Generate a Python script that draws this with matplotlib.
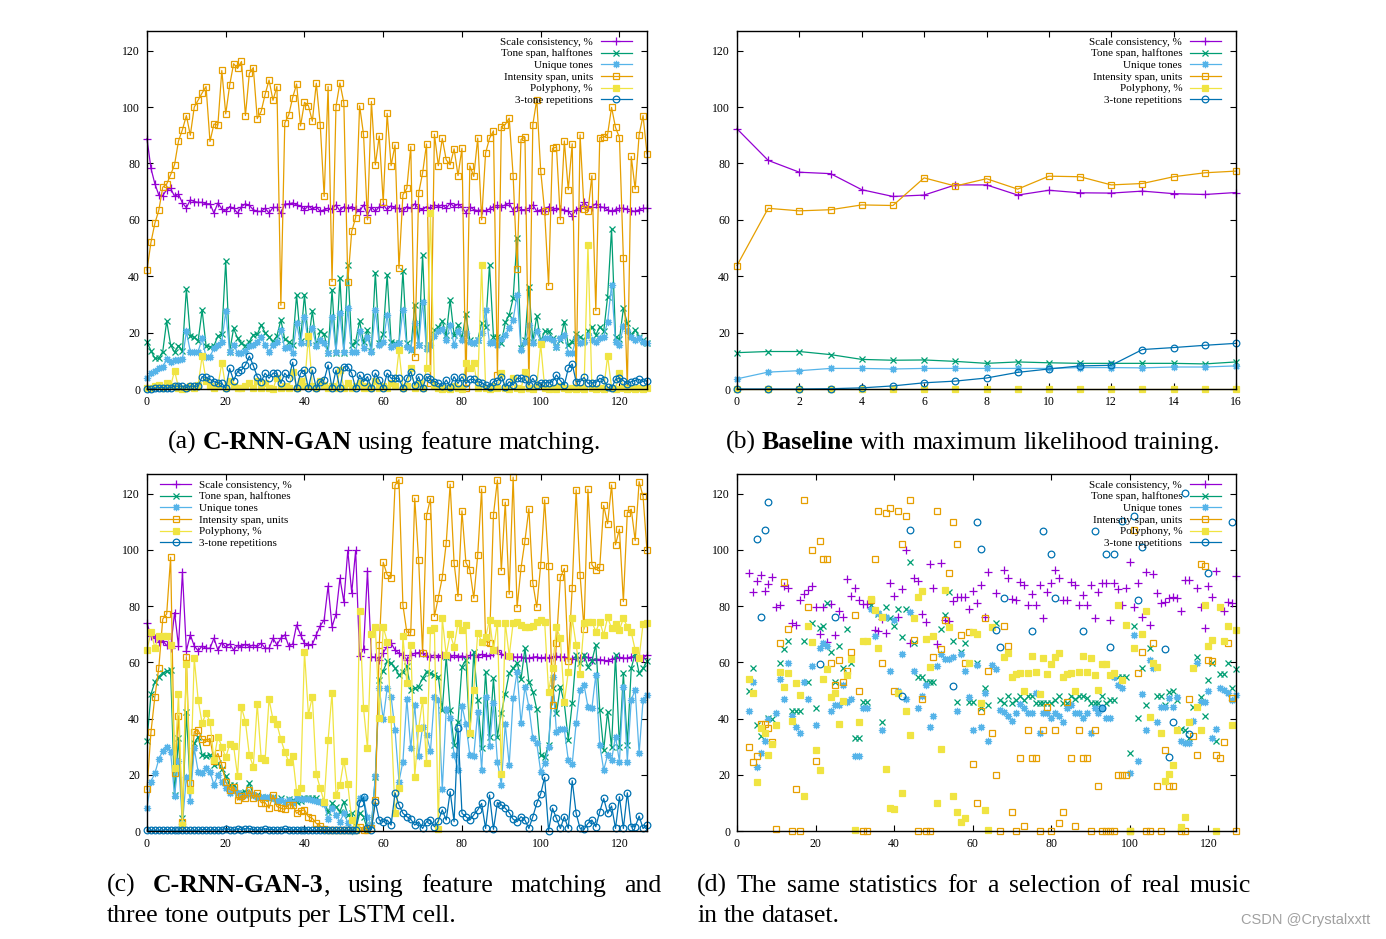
import numpy as np
import matplotlib
matplotlib.use("Agg")
import matplotlib.pyplot as plt
from matplotlib.lines import Line2D
from matplotlib.transforms import IdentityTransform

plt.rcParams['font.family'] = ['Liberation Serif', 'DejaVu Serif']

# series names / colours (gnuplot defaults)
labels = ["Scale consistency, %", "Tone span, halftones", "Unique tones",
          "Intensity span, units", "Polyphony, %", "3-tone repetitions"]
colors = ['#9400d3', '#009e73', '#56b4e9', '#e69f00', '#f0e442', '#0072b2']

# ---- (a) C-RNN-GAN, feature matching (epochs 0..127)
a_scale = [88.8, 78.3, 72.8, 68.8, 68.6, 70.7, 71.2, 68.3, 69.1, 66.0,
           64.3, 67.1, 66.5, 66.2, 66.2, 65.7, 65.7, 62.4, 66.0, 63.9,
           63.0, 64.7, 64.1, 62.4, 64.7, 65.7, 65.1, 63.6, 63.0, 63.0,
           64.1, 62.4, 64.4, 64.4, 62.4, 65.6, 65.7, 66.0, 65.3, 65.0,
           63.6, 65.0, 63.8, 64.7, 63.0, 63.6, 64.1, 63.9, 65.3, 63.2,
           64.7, 64.1, 64.7, 63.9, 63.0, 65.3, 61.8, 64.5, 63.0, 64.7,
           65.3, 63.6, 65.0, 64.1,
           64.1, 63.0, 64.7, 64.1, 65.7, 64.1, 63.6, 64.7, 64.1, 65.3,
           64.7, 65.3, 64.1, 65.9, 64.7, 65.6, 64.5, 62.6, 64.7, 63.6,
           63.3, 63.6, 63.0, 63.9, 64.7, 65.1, 64.7, 65.3, 65.9, 63.3,
           64.7, 63.6, 63.6, 64.1, 65.3, 63.0, 63.6, 63.3, 64.7, 63.6,
           64.1, 63.9, 63.6, 63.0, 61.5, 63.6, 64.1, 66.2, 64.7, 64.7,
           65.7, 64.7, 64.4, 63.6, 63.0, 63.6, 64.1, 64.1, 63.9, 63.3,
           63.0, 63.6, 64.1, 64.1]
a_span = [16.6, 13.6, 10.9, 10.9, 13.3, 24.1, 15.6, 13.0, 15.4, 13.6,
          35.5, 18.8, 18.3, 17.2, 28.0, 15.3, 15.0, 15.3, 18.8, 19.5,
          45.4, 13.3, 21.5, 18.0, 16.2, 15.4, 16.8, 19.2, 19.4, 22.7,
          20.0, 18.6, 16.8, 18.8, 24.5, 17.6, 16.8, 15.6, 33.4, 17.2,
          33.4, 16.8, 27.7, 15.6, 20.4, 19.5, 12.9, 35.1, 12.9, 39.3,
          12.9, 44.0, 15.6, 16.8, 24.1, 16.6, 20.9, 13.6, 41.3, 16.2,
          19.5, 40.6, 16.8, 16.2,
          16.2, 42.0, 16.2, 13.8, 29.8, 15.6, 47.6, 14.4, 15.6, 21.0,
          21.9, 24.1, 19.2, 31.6, 19.2, 22.7, 18.0, 26.5, 17.4, 16.2,
          17.4, 23.3, 22.1, 44.0, 18.6, 18.6, 16.2, 23.6, 26.3, 32.2,
          53.5, 14.4, 17.4, 36.3, 16.8, 25.9, 16.8, 20.4, 20.4, 18.0,
          15.0, 17.4, 23.9, 15.6, 16.8, 19.5, 18.6, 17.4, 20.4, 22.1,
          19.2, 22.1, 20.4, 32.8, 56.8, 18.6, 17.6, 28.6, 23.3, 19.2,
          21.0, 18.6, 17.4, 16.2]
a_unique = [3.8, 5.6, 6.5, 7.3, 7.9, 10.5, 9.7, 10.3, 10.3, 10.5,
            20.4, 13.3, 13.3, 13.3, 18.0, 11.2, 11.5, 14.4, 15.6, 16.8,
            27.5, 13.3, 15.6, 12.9, 12.9, 13.6, 15.3, 15.6, 16.8, 18.6,
            15.6, 13.3, 15.6, 16.8, 20.9, 14.4, 15.0, 12.7, 23.3, 16.2,
            25.7, 16.2, 21.5, 15.3, 17.4, 16.2, 12.9, 25.7, 13.3, 26.9,
            13.3, 28.6, 13.3, 13.3, 20.4, 14.4, 18.6, 13.3, 28.0, 15.6,
            16.8, 26.3, 15.0, 15.6,
            16.2, 28.0, 15.0, 14.1, 23.3, 15.6, 31.0, 14.1, 15.6, 18.8,
            20.4, 21.2, 17.4, 22.7, 15.6, 20.4, 17.4, 19.8, 16.8, 16.4,
            17.4, 19.8, 28.0, 16.2, 16.8, 15.6, 17.6, 19.2, 21.5, 24.5,
            33.4, 13.8, 16.8, 22.7, 16.4, 20.4, 16.8, 18.0, 18.0, 17.4,
            15.0, 18.0, 19.2, 12.9, 12.7, 18.0, 16.4, 16.8, 19.2, 17.4,
            16.8, 18.0, 18.6, 23.9, 36.9, 16.8, 15.6, 22.4, 20.4, 18.6,
            17.4, 18.0, 16.8, 16.2]
a_intensity = [42.2, 52.0, 58.8, 63.4, 71.6, 72.7, 76.0, 79.6, 88.0, 92.0,
               97.0, 90.0, 100.0, 102.5, 105.0, 107.3, 87.8, 94.0, 93.6, 113.0,
               97.6, 107.8, 115.4, 113.7, 116.2, 97.0, 112.0, 114.0, 95.9, 98.5,
               104.5, 109.6, 102.4, 107.3, 29.7, 94.4, 97.2, 103.4, 108.2, 93.3,
               101.7, 100.5, 95.0, 108.5, 93.8, 68.3, 107.3, 38.1, 100.2, 108.6,
               101.5, 38.1, 55.9, 60.8, 100.5, 90.3, 60.0, 102.0, 79.5, 89.8,
               66.2, 97.8, 79.2, 86.6,
               42.8, 68.9, 71.2, 86.0, 11.5, 69.5, 76.6, 86.9, 2.0, 90.4,
               79.2, 88.9, 81.3, 79.5, 85.2, 75.7, 85.4, 0.5, 79.2, 75.4,
               89.0, 60.0, 83.7, 88.9, 91.6, 4.9, 93.1, 93.8, 96.1, 75.6,
               42.6, 88.6, 89.3, 0.5, 93.8, 102.6, 77.4, 63.0, 36.7, 85.4,
               85.8, 60.0, 88.0, 70.7, 87.0, 0.5, 90.2, 64.0, 63.0, 75.7,
               27.8, 89.2, 89.3, 90.4, 99.9, 92.8, 89.2, 46.3, 0.5, 82.5,
               70.9, 90.2, 97.0, 83.4]
a_poly = [0.5, 0.5, 1.0, 1.5, 0.5, 2.0, 1.0, 6.5, 0.5, 0.0,
          0.5, 1.0, 0.5, 1.5, 11.7, 3.0, 1.0, 0.5, 1.0, 9.3,
          0.5, 3.0, 1.0, 0.5, 0.5, 1.0, 2.0, 0.5, 3.0, 0.5,
          2.0, 0.5, 0.0, 4.0, 0.5, 1.0, 0.5, 6.0, 0.5, 3.0,
          1.0, 18.8, 1.0, 0.5, 3.0, 1.5, 0.5, 1.0, 0.5, 6.7,
          0.5, 2.0, 0.5, 1.0, 2.0, 0.5, 1.0, 0.5, 3.0, 0.5,
          1.0, 0.5, 2.0, 1.0, 13.8, 0.5, 1.0, 7.3, 0.5, 2.0,
          0.5, 7.3, 62.4, 1.0, 0.5, 0.0, 0.5, 0.0, 1.0, 0.5,
          0.0, 9.3, 7.3, 9.1, 0.5, 44.0, 0.5, 0.0, 1.0, 0.5,
          5.8, 0.5, 0.0, 3.8, 0.5, 0.0, 6.2, 0.5, 0.0, 1.0,
          15.9, 0.5, 0.0, 0.5, 0.0, 1.0, 0.5, 0.0, 0.5, 0.0,
          0.5, 0.0, 51.1, 0.5, 0.0, 0.5, 0.0, 11.7, 0.5, 0.0,
          5.6, 0.5, 0.0, 0.5, 0.0, 0.5, 0.0, 0.5]
a_rep = [0.0, 0.0, 0.3, 0.5, 0.5, 0.3, 0.5, 1.0, 1.0, 1.0,
         0.5, 1.0, 1.0, 1.0, 4.4, 4.1, 3.4, 2.6, 2.2, 2.0,
         0.2, 7.3, 3.0, 6.2, 6.7, 8.5, 11.7, 8.3, 4.4, 2.6,
         5.6, 3.8, 5.6, 5.6, 2.0, 5.6, 3.8, 9.5, 0.2, 5.6,
         6.7, 0.2, 6.7, 0.2, 2.6, 3.2, 8.5, 0.2, 6.7, 0.2,
         7.9, 7.9, 5.6, 0.2, 5.0, 2.6, 4.4, 0.2, 5.6, 3.2,
         0.2, 5.6, 3.8, 3.8,
         3.8, 0.2, 3.8, 6.2, 1.4, 4.4, 0.2, 4.4, 3.4, 2.6,
         2.0, 1.0, 3.2, 0.8, 4.4, 2.0, 4.4, 2.0, 3.4, 3.4,
         2.6, 2.2, 1.4, 0.8, 2.6, 3.0, 4.4, 0.8, 2.6, 1.4,
         3.8, 3.8, 3.4, 1.4, 3.8, 1.4, 2.2, 2.2, 2.2, 2.6,
         5.0, 3.0, 1.4, 7.3, 8.9, 2.6, 2.6, 4.1, 2.0, 2.2,
         2.2, 3.8, 3.2, 0.6, 0.2, 3.4, 3.8, 3.0, 1.8, 2.6,
         3.0, 3.4, 2.6, 3.0]

# ---- (b) baseline, maximum likelihood (epochs 0..16)
b_scale = [92.3, 81.1, 76.9, 76.4, 70.7, 68.3, 68.8, 72.4, 72.4, 68.8, 70.5, 69.6, 69.5, 70.2, 69.3, 69.0, 69.7]
b_span = [12.9, 13.3, 13.3, 12.2, 10.5, 10.2, 10.3, 9.8, 9.1, 9.6, 9.3, 9.1, 9.1, 9.1, 9.1, 8.9, 9.6]
b_unique = [3.6, 6.0, 6.5, 7.3, 7.3, 7.1, 7.3, 7.3, 7.3, 7.3, 7.3, 7.6, 7.6, 7.5, 7.8, 7.8, 8.2]
b_intensity = [43.8, 64.1, 63.2, 63.6, 65.3, 65.1, 74.9, 72.0, 74.6, 70.9, 75.5, 75.3, 72.4, 72.9, 75.3, 76.7, 77.3]
b_poly = [0.0, 0.0, 0.0, 0.0, 0.0, 0.0, 0.0, 0.0, 0.0, 0.0, 0.0, 0.0, 0.0, 0.0, 0.0, 0.0, 0.0]
b_rep = [0.0, 0.0, 0.0, 0.1, 0.4, 1.1, 2.2, 2.8, 3.9, 5.9, 7.1, 8.2, 8.4, 14.0, 14.7, 15.5, 16.2]

# ---- (c) C-RNN-GAN-3 (epochs 0..127)
c_scale = [73.9, 69.5, 68.6, 67.4, 67.7, 66.0, 65.0, 77.7, 65.8, 92.0,
           64.1, 69.8, 65.8, 64.1, 65.8, 65.0, 65.0, 68.6, 64.4, 67.0,
           65.4, 66.5, 64.4, 66.0, 65.6, 66.4, 65.6, 66.2, 65.6, 66.8,
           65.0, 65.0, 68.6, 66.2, 68.6, 69.8, 65.8, 66.5, 73.3, 69.8,
           66.8, 66.0, 66.4, 69.8, 73.0, 75.1, 87.2, 72.7, 77.1, 89.9,
           81.6, 99.8, 84.8, 99.8, 62.4, 64.6, 92.5, 62.0, 61.8, 60.9,
           63.5, 65.6, 66.8, 64.4, 63.2, 62.6, 60.9, 62.6, 63.2, 63.5,
           63.2, 62.3, 62.0, 62.6, 62.0, 62.5, 62.0, 61.8, 62.5, 62.0,
           62.3, 61.8, 62.5, 62.5, 62.0, 62.8, 62.3, 62.5, 63.5, 64.4,
           63.0, 62.5, 62.3, 62.0, 61.8, 62.0, 61.5, 61.5, 61.8, 62.0,
           61.5, 61.8, 61.5, 62.0, 62.2, 61.8, 62.0, 61.5, 61.2, 62.0,
           61.5, 62.0, 61.8, 60.9, 61.2, 61.0, 60.8, 60.3, 61.2, 61.5,
           61.8, 61.5, 61.5, 62.0, 61.8, 62.0, 61.5, 62.6]
c_span = [32.1, 48.6, 53.1, 54.9, 56.3, 56.8, 57.3, 12.8, 33.0, 4.7,
          42.5, 14.9, 31.2, 33.6, 27.0, 26.7, 27.0, 23.5, 24.1, 21.9,
          19.6, 16.4, 16.4, 13.6, 13.6, 14.0, 17.0, 12.8, 12.8, 12.2,
          11.6, 11.6, 12.2, 11.0, 11.6, 10.4, 11.3, 11.0, 10.4, 10.7,
          11.6, 11.6, 11.6, 11.6, 10.7, 10.4, 6.9, 9.8, 8.7, 6.9,
          10.4, 5.7, 6.3, 0.4, 6.3, 5.1, 0.4,
          2.0, 19.3, 53.7, 57.0, 60.3,
          59.7, 57.9, 55.5, 56.7, 58.7, 50.2, 50.8, 51.4, 54.3, 56.7,
          56.1, 55.5, 54.9, 43.1, 62.0, 43.1, 30.6, 38.9, 58.5, 60.9,
          34.2, 63.8, 46.6, 29.4, 56.7, 33.6, 54.3, 33.6, 41.9, 48.8,
          56.1, 57.9, 59.9, 54.0, 65.0, 53.1, 49.6, 43.3, 27.0, 26.2,
          30.6, 50.8, 41.9, 51.4, 45.4, 32.4, 45.4, 62.6, 59.7, 62.6,
          58.5, 60.5, 66.2, 43.1, 28.8, 42.5, 29.8, 62.6, 30.0, 56.1,
          30.6, 57.9, 63.2, 56.1, 57.9, 60.3]
c_unique = [8.3, 17.6, 20.5, 25.5, 28.6, 29.8, 28.2, 12.5, 25.0, 2.5,
            19.3, 10.8, 29.4, 21.1, 20.8, 22.3, 21.1, 16.4, 19.9, 17.6,
            15.2, 13.6, 14.6, 13.6, 12.2, 12.8, 13.4, 12.8, 12.0, 12.0,
            12.0, 12.0, 11.6, 10.8, 11.0, 10.4, 11.0, 10.1, 11.6, 11.3,
            11.3, 11.3, 11.0, 10.7, 10.4, 9.6, 4.2, 8.1, 5.7, 3.3,
            6.3, 3.0,
            0.1, 0.9, 11.6, 11.6, 5.1, 2.0, 19.6, 50.8, 39.7, 50.8,
            47.8, 36.0, 17.6, 24.7, 46.9, 29.4, 44.8, 26.7, 37.1, 34.2,
            28.5, 47.8, 46.6, 14.8, 43.3, 40.1, 27.0, 21.7, 44.6, 38.0,
            27.0, 26.8, 42.5, 21.7, 47.8, 30.2, 45.4, 24.7, 16.4, 38.1,
            23.5, 47.2, 56.7, 38.3, 51.4, 44.2, 33.0, 31.2, 21.1, 24.1,
            30.0, 54.9, 35.3, 36.2, 36.2, 25.3, 23.8, 38.3, 50.2, 52.0,
            44.2, 43.7, 55.5, 30.6, 21.7, 27.0, 25.3, 33.6, 24.7, 51.4,
            24.7, 46.6, 50.2, 27.6, 46.6, 48.4]
c_intensity = [14.8, 35.1, 47.8, 58.1, 75.4, 77.2, 97.4, 20.8, 41.0, 3.3,
               62.0, 17.2, 35.3, 35.9, 32.6, 31.8, 33.0, 24.9, 27.6, 23.5,
               17.6, 14.6, 15.8, 11.0, 12.5, 11.6, 14.6, 11.6, 13.4, 10.1,
               10.1, 8.1, 12.8, 8.7, 8.1, 7.7, 9.3, 9.3, 6.3, 7.2,
               7.5, 5.1, 4.5, 2.7, 1.8, 0.6, 0.4, 0.3, 0.3, 0.3,
               0.3, 0.3, 0.3, 0.3, 1.5, 0.4, 0.5,
               1.0, 11.0, 66.2, 95.6, 91.1,
               90.0, 123.0, 125.0, 80.4, 70.7, 70.7, 118.4, 96.4, 63.2, 112.2,
               118.2, 76.3, 83.0, 90.2, 102.4, 123.4, 95.3, 83.4, 113.9, 95.5,
               92.9, 82.8, 98.2, 121.7, 67.4, 67.0, 112.5, 124.9, 92.6, 117.0,
               84.2, 125.9, 79.5, 93.5, 103.3, 114.7, 88.2, 79.6, 94.7, 117.8,
               94.4, 44.8, 67.0, 90.2, 93.4, 60.3, 86.4, 121.4, 91.2, 71.8,
               121.6, 94.7, 92.9, 93.8, 115.8, 109.3, 123.1, 101.8, 107.4, 81.6,
               113.3, 114.5, 103.3, 124.3, 119.0, 99.8]
c_poly = [64.4, 70.7, 65.2, 69.2, 69.2, 69.2, 66.2, 22.5, 48.6, 2.1,
          59.4, 14.6, 61.4, 46.6, 38.3, 41.9, 38.9, 25.3, 33.6, 30.0,
          26.2, 30.8, 30.2, 19.6, 44.0, 38.9, 27.0, 22.9, 45.2, 25.9,
          25.3, 46.9, 39.7, 38.1, 32.6, 28.2, 24.6, 26.8, 14.0, 15.2,
          63.8, 41.4, 47.8, 20.3, 15.2, 10.4, 32.4, 49.2, 12.8, 16.4,
          25.0, 16.7, 3.9, 1.0,
          78.4, 43.7, 29.4, 70.1, 72.7, 40.1, 72.7, 67.4, 39.7, 6.3,
          15.2, 69.4, 52.6, 66.2, 19.3, 36.5, 46.6, 24.1, 71.5, 72.1,
          0.7, 75.7, 62.6, 70.1, 65.6, 74.1, 71.5, 73.3, 34.8, 50.2,
          70.5, 67.4, 68.9, 75.1, 64.4, 74.1, 20.3, 74.1, 62.3, 74.1,
          74.5, 73.3, 72.4, 72.7, 72.9, 74.5, 74.9, 74.5, 49.6, 57.9,
          72.5, 68.6, 45.8, 56.7, 75.7, 66.2, 55.9, 73.9, 74.3, 74.5,
          70.9, 74.5, 69.8, 76.0, 72.1, 73.5, 71.5, 75.7, 72.7, 70.7,
          64.4, 61.7, 73.7, 73.9]
c_rep = [0.3, 0.3, 0.3, 0.3, 0.3, 0.5, 0.3, 0.3, 0.3, 0.3,
         0.3, 0.3, 0.3, 0.3, 0.5, 0.5, 0.3, 0.5, 0.3, 0.5,
         0.8, 0.5, 0.3, 0.8, 0.5, 0.8, 0.8, 0.5, 0.3, 0.5,
         0.8, 0.5, 0.5, 0.3, 0.5, 0.8, 0.5, 0.3, 0.5, 0.3,
         0.5, 0.3, 0.3, 0.3, 0.3, 0.3, 0.3, 0.3, 0.3, 0.3,
         0.3, 0.3, 0.3, 0.3,
         10.0, 12.0, 1.0, 0.5, 10.4, 3.9, 3.3, 3.9,
         2.1, 13.6, 9.3, 6.3, 5.1, 4.2, 2.1, 3.3, 0.9, 3.3,
         3.9, 1.5, 3.6, 7.5, 3.9, 14.0, 3.3, 36.5, 6.3, 5.1,
         3.9, 5.7, 7.5, 9.8, 0.9, 12.8, 0.6, 10.1, 9.3, 8.1,
         6.5, 4.2, 3.3, 5.1, 3.9, 0.9, 5.1, 9.8, 13.2, 19.1,
         0.1, 8.1, 4.5, 0.9, 5.1, 0.9, 17.9, 6.3, 0.9, 0.6,
         2.7, 3.9, 1.5, 6.9, 11.6, 6.3, 8.9, 0.9, 12.2, 0.9,
         13.6, 1.5, 1.5, 5.3, 0.9, 2.1]

# ---- (d) real music: one point per piece, some statistics missing
d_scale_x = list(range(3, 65)) + [66] + list(range(68, 116)) + list(range(117, 123)) + list(range(124, 128))
d_scale_y = [91.7, 84.9, 89.0, 90.9, 85.3, 87.8, 90.2, 79.8, 80.5, 87.3, 86.4, 74.0, 73.4, 82.2, 84.3, 85.8,
             87.0, 79.6, 70.0, 79.6, 67.4, 80.7, 69.9, 78.1, 76.0, 89.6, 83.7, 86.4, 82.2, 80.8, 80.7, 79.8,
             71.5, 71.2, 75.4, 70.3, 88.1, 83.6, 76.3, 86.0, 99.8, 66.8, 89.9, 89.0, 77.2, 74.5, 95.0, 86.6,
             66.4, 95.5, 74.9, 74.7, 81.9, 83.4, 83.2, 83.2, 78.9, 85.5, 81.0, 87.5, 76.3, 92.0,
             84.8, 92.9, 89.9, 82.4, 82.2, 88.7, 87.5, 80.4, 84.3, 80.4, 87.5, 75.9, 84.9, 88.1, 92.9, 89.9,
             82.2, 82.2, 88.5, 87.5, 80.4, 84.0, 80.4, 87.5, 75.9, 84.9, 88.1, 88.1, 74.9, 88.1, 86.0, 80.4,
             86.4, 95.8, 79.8, 88.1, 76.3, 92.0, 73.3, 91.3, 84.6, 81.0, 81.6, 82.8, 83.4, 83.0, 78.1, 89.3,
             89.3, 86.4, 79.8, 72.1, 87.2, 83.4, 92.5, 78.1, 81.3, 81.0, 90.7]
d_span_x = [3, 4, 5, 6, 8, 9] + list(range(11, 35)) + list(range(36, 51)) + list(range(52, 65)) + [66] + list(range(67, 128))
d_span_y = [49.9, 57.9, 37.7, 33.9, 40.1, 39.7,
            59.9, 64.8, 67.7, 42.8, 42.8, 42.8, 67.7, 52.9, 73.9, 43.9, 72.1, 73.0, 81.0, 63.8, 52.9, 65.8,
            58.1, 71.8, 59.7, 33.0, 33.0, 46.0, 46.0, 80.4,
            77.2, 38.9, 79.8, 75.9, 73.1, 78.9, 68.9, 78.9, 95.8, 67.0, 54.9, 54.9, 52.9, 52.9, 52.9,
            71.8, 76.9, 84.9, 67.7, 45.8, 63.8, 66.8, 45.8, 46.0, 59.9, 43.9, 50.8, 44.8,
            74.1,
            46.6, 45.4, 48.0, 45.4, 46.6, 48.0, 46.6, 48.0, 48.0, 45.7, 45.7, 45.7, 45.7, 45.7, 46.6, 48.0,
            45.7, 45.7, 48.0, 46.9, 48.0, 48.0, 47.2, 45.7, 45.7, 45.7, 48.0, 45.7, 46.6, 46.6,
            54.9, 54.9, 54.9, 27.9, 73.0, 40.1, 57.9, 44.8, 65.0, 59.9, 48.0, 48.0, 44.8, 49.6, 49.9, 46.6,
            36.2, 35.9, 33.0, 44.0, 61.8, 47.8, 40.9, 53.7, 59.9, 32.0, 55.9, 55.9, 59.9, 50.8, 57.7]
d_unique_x = [3, 4, 5, 6, 7, 8] + list(range(10, 99)) + list(range(100, 128))
d_unique_y = [42.8, 52.9, 22.9, 27.9, 32.1, 39.7,
              41.9, 54.0, 46.9, 59.9, 40.9, 36.9, 34.8, 52.9, 46.9, 58.8,
              37.7, 65.0, 66.8, 65.8, 42.8, 44.8, 44.8, 52.0, 46.0, 46.9,
              26.8, 26.8, 43.9, 43.9, 78.9, 69.2, 77.7, 35.9, 76.0, 56.9,
              75.1, 49.9, 63.0, 46.9, 77.8, 56.9, 43.9, 48.0, 52.0, 36.9,
              40.9, 58.8, 63.0, 61.2, 61.1, 61.8, 42.8, 63.0, 56.9, 47.8,
              35.9, 59.1, 36.9, 49.0, 32.1,
              59.1, 57.7, 43.1, 42.2, 41.0, 39.3, 42.1, 45.1, 43.9, 42.1,
              42.1, 49.2, 34.8, 42.1, 42.1, 40.1, 42.1, 41.0, 38.9, 43.9,
              44.8, 42.1, 42.1, 40.1, 42.1, 34.8, 43.9, 42.1, 43.7, 40.1,
              40.1, 54.9, 52.0, 50.8,
              20.8, 69.8, 24.9, 48.8, 35.9, 60.9, 57.9, 38.9, 44.0, 44.0,
              47.2, 44.0, 47.8, 32.1, 31.2, 31.2, 39.3, 59.9, 46.0, 46.0,
              49.9, 33.0, 36.2, 50.8, 50.2, 49.0, 46.6, 48.4]
d_intensity_x = list(range(3, 112)) + list(range(113, 128))
d_intensity_y = [29.8, 24.7, 26.8, 38.0, 38.0, 36.8, 31.8, 0.7, 66.8, 88.7,
                 71.9, 0.0, 14.8, 0.0, 117.8, 79.8, 100.0, 24.9, 103.0, 96.8,
                 96.8, 59.9, 52.0, 60.9, 52.9, 56.9, 63.8, 76.9, 49.9, 0.0,
                 0.0, 82.0, 96.8, 113.9, 59.9, 113.0, 115.0, 49.9, 113.9, 102.0,
                 111.9, 117.8, 68.0, 0.0, 47.0, 0.0, 0.0, 62.0, 113.9, 64.8,
                 74.9, 91.9, 109.8, 102.0, 69.8, 59.9, 70.9, 23.8, 9.8, 42.8,
                 75.9, 56.9,
                 35.0, 19.9, 0.0, 73.1, 65.8, 6.9, 0.0, 25.9, 1.8, 35.9,
                 25.9, 25.9, 0.0, 35.9, 44.0, 0.0, 35.9, 3.0, 6.9, 46.0,
                 25.9, 1.8, 35.9, 25.9, 25.9, 0.0, 35.9, 16.0, 0.0, 0.0,
                 0.0, 0.0, 19.9, 19.9, 19.9, 0.0, 107.0, 56.1, 63.8, 0.0,
                 0.0, 67.0, 16.0, 0.0, 28.8, 16.0, 16.0,
                 0.0, 0.0, 46.9, 33.8, 27.0, 95.0, 94.1, 60.9, 60.3, 27.0,
                 25.9, 31.8, 66.8, 47.2, 0.0]
d_poly_x = list(range(3, 66)) + list(range(68, 102)) + list(range(103, 128))
d_poly_y = [54.0, 49.0, 17.3, 36.8, 34.8, 27.0, 31.0, 37.7, 56.5, 51.4,
            56.3, 39.3, 52.8, 48.4, 12.5, 73.0, 67.4, 28.8, 21.7, 54.0,
            57.7, 47.8, 49.0, 38.0, 46.3, 55.5, 61.1, 0.4, 38.7, 67.6,
            67.6, 82.4, 78.6, 65.2, 76.3, 22.1, 8.3, 7.7, 49.2, 13.4,
            42.8, 34.2, 75.9, 83.2, 85.5, 68.3, 58.5, 69.4, 9.8, 29.1,
            85.8, 72.5, 12.5, 6.9, 3.3, 4.5, 59.7, 70.9, 70.1, 45.7,
            7.5, 0.4, 72.7,
            62.0, 63.5, 54.7, 55.9, 56.1, 49.9, 56.3, 62.4, 56.7, 48.8,
            61.4, 55.9, 59.3, 62.0, 63.2, 54.7, 55.9, 56.1, 49.8, 56.5,
            62.4, 56.7, 61.4, 55.5, 50.2, 59.3, 59.3, 55.5, 56.3, 80.4,
            53.7, 73.3, 0.1, 65.0,
            70.0, 78.4, 40.7, 59.7, 58.5, 34.8, 17.9, 20.3, 23.5, 35.9,
            1.3, 5.1, 38.9, 57.9, 44.2, 35.9, 80.4, 65.8, 68.0, 0.1,
            79.8, 67.7, 73.0, 37.7, 71.5]
d_rep_x = [5, 6, 7, 8, 21, 25, 42, 44, 55, 61, 62, 66, 67, 68, 75, 78, 80, 81, 88, 91,
           93, 94, 95, 96, 98, 101, 102, 103, 109, 110, 111, 114, 115, 120, 126]
d_rep_y = [103.8, 76.3, 107.1, 117.0, 59.3, 76.3, 48.0, 107.1, 51.6, 110.1, 100.4, 71.5, 65.6, 83.0,
           71.1, 106.9, 98.5, 83.0, 71.1, 106.9, 43.7, 98.5, 65.6, 98.5, 110.4, 111.9, 82.0, 101.2,
           64.8, 26.2, 38.9, 120.2, 34.4, 91.7, 110.1]

# gnuplot point types 1..6
styles = [dict(marker='+', markersize=6.0),
          dict(marker='x', markersize=4.5),
          dict(marker=(8, 2, 0), markersize=5.2),
          dict(marker='s', markersize=4.7, markerfacecolor='none'),
          dict(marker='s', markersize=4.0),
          dict(marker='o', markersize=4.8, markerfacecolor='none')]

W, H = 1386, 939
fig = plt.figure(figsize=(W / 100, H / 100), dpi=100)


def add_axes(left, top, width, height):
    return fig.add_axes([left / W, 1 - (top + height) / H, width / W, height / H])


def setup(ax, xmax, xticks):
    ax.set_xlim(0, xmax)
    ax.set_ylim(0, 127)
    ax.set_xticks(xticks)
    ax.set_yticks(range(0, 121, 20))
    ax.tick_params(direction='in', top=True, right=True, length=4, width=0.8, labelsize=8.5, pad=5)
    for s in ax.spines.values():
        s.set_linewidth(1.0)


def handles():
    return [Line2D([], [], color=c, lw=0.9, mew=0.9, **st) for c, st in zip(colors, styles)]


LEG = dict(frameon=False, fontsize=8, handlelength=2.8, handletextpad=0.7,
           labelspacing=0.17, borderpad=0, borderaxespad=0)


def legend_right(ax):
    ax.legend(handles(), labels, loc='upper right', bbox_to_anchor=(1 - 15 / 500, 1 - 6 / 358),
              markerfirst=False, **LEG)


def line_panel(ax, series):
    x = np.arange(len(series[0]))
    for y, c, st in zip(series, colors, styles):
        ax.plot(x, y, color=c, lw=0.9, mew=0.9, clip_on=False, **st)


ax_a = add_axes(147, 31, 500, 358)
line_panel(ax_a, [a_scale, a_span, a_unique, a_intensity, a_poly, a_rep])
setup(ax_a, 127, range(0, 121, 20))
legend_right(ax_a)

ax_b = add_axes(737, 31, 499, 358)
line_panel(ax_b, [b_scale, b_span, b_unique, b_intensity, b_poly, b_rep])
setup(ax_b, 16, range(0, 17, 2))
legend_right(ax_b)

ax_c = add_axes(147, 474, 500, 357)
line_panel(ax_c, [c_scale, c_span, c_unique, c_intensity, c_poly, c_rep])
setup(ax_c, 127, range(0, 121, 20))
ax_c.legend(handles(), labels, loc='upper left', bbox_to_anchor=(13 / 500, 1 - 6 / 357),
            markerfirst=True, **LEG)

ax_d = add_axes(737, 474, 499, 357)
d_sets = [(d_scale_x, d_scale_y), (d_span_x, d_span_y), (d_unique_x, d_unique_y),
          (d_intensity_x, d_intensity_y), (d_poly_x, d_poly_y), (d_rep_x, d_rep_y)]
for (x, y), c, st in zip(d_sets, colors, styles):
    ax_d.plot(x, y, linestyle='none', color=c, mew=0.9, clip_on=False, **st)
setup(ax_d, 127, range(0, 121, 20))
legend_right(ax_d)

# ---- captions (word-placed so bold parts and justified lines work)
renderer = fig.canvas.get_renderer()
CAP = 18.5


def caption(words, base, x0=None, x1=None, centre=None):
    items = []
    for word in words:
        parts = []
        for txt, bold in word:
            t = fig.text(0, 0, txt, transform=IdentityTransform(), fontsize=CAP,
                         fontweight='bold' if bold else 'normal', ha='left', va='baseline')
            parts.append((t, t.get_window_extent(renderer).width))
        items.append(parts)
    widths = [sum(w for _, w in p) for p in items]
    if x1 is not None:
        gap = (x1 - x0 - sum(widths)) / (len(items) - 1)
    else:
        gap = CAP * 0.25 * fig.dpi / 72
        if centre is not None:
            x0 = centre - (sum(widths) + gap * (len(items) - 1)) / 2
    x = x0
    for parts in items:
        for t, w in parts:
            t.set_position((x, H - base))
            x += w
        x += gap


def plain(s):
    return [[(w, False)] for w in s.split()]


caption([[("(a)", False)], [("C-RNN-GAN", True)]] + plain("using feature matching."), 449, centre=384)
caption([[("(b)", False)], [("Baseline", True)]] + plain("with maximum likelihood training."), 449, centre=973)
caption([[("(c)", False)], [("C-RNN-GAN-3", True), (",", False)]] + plain("using feature matching and"),
        892, x0=107, x1=661)
caption(plain("three tone outputs per LSTM cell."), 922, x0=107)
caption(plain("(d) The same statistics for a selection of real music"), 892, x0=697, x1=1251)
caption(plain("in the dataset."), 922, x0=697)

fig.text(1370 / W, 1 - 920 / H, "CSDN @Crystalxxtt", ha='right', va='center',
         color='#a0a0a0', fontsize=10.5, family='Liberation Sans')

fig.savefig("out.png", dpi=100)
